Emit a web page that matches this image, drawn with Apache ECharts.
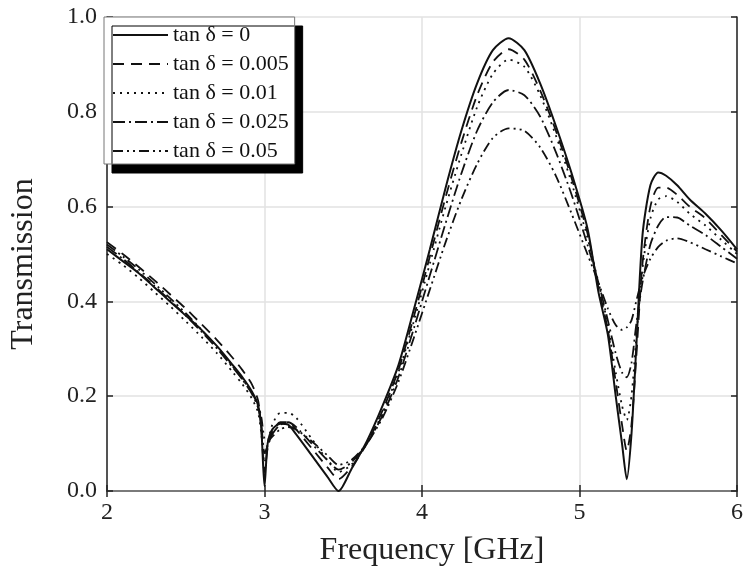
<!DOCTYPE html>
<html>
<head>
<meta charset="utf-8">
<title>Transmission</title>
<script src="https://cdn.jsdelivr.net/npm/echarts@6/dist/echarts.min.js"></script>
<style>
  html, body { margin: 0; padding: 0; background: #fff; }
  #main { width: 752px; height: 585px; }
</style>
</head>
<body>
<div id="main"></div>
<script>
// frequency points (GHz), denser around the dips
var freq = [2.0, 2.1, 2.2, 2.3, 2.4, 2.5, 2.6, 2.7, 2.8, 2.86, 2.92, 2.96, 2.98, 3.0, 3.02, 3.05, 3.1, 3.15, 3.2, 3.3, 3.4, 3.47,
  3.55, 3.65, 3.75, 3.85, 3.95, 4.05, 4.15, 4.25, 4.35, 4.45, 4.55, 4.65, 4.75, 4.85, 4.95, 5.05, 5.12, 5.18, 5.23, 5.27, 5.3,
  5.33, 5.36, 5.4, 5.45, 5.5, 5.55, 5.62, 5.7, 5.8, 5.9, 6.0];

var seriesNames = ['tan δ = 0', 'tan δ = 0.005', 'tan δ = 0.01', 'tan δ = 0.025', 'tan δ = 0.05'];

var tan0 = [0.51, 0.485, 0.46, 0.43, 0.40, 0.37, 0.34, 0.305, 0.265, 0.24, 0.21, 0.18, 0.13, 0.01, 0.1, 0.13, 0.142, 0.14, 0.12, 0.075, 0.03, 0.0,
  0.045, 0.105, 0.18, 0.265, 0.385, 0.51, 0.64, 0.76, 0.86, 0.93, 0.955, 0.93, 0.86, 0.77, 0.67, 0.555, 0.42, 0.33, 0.2, 0.1, 0.025,
  0.12, 0.3, 0.54, 0.645, 0.672, 0.665, 0.645, 0.615, 0.585, 0.55, 0.51];

var tan0005 = [0.525, 0.5, 0.473, 0.445, 0.415, 0.385, 0.352, 0.318, 0.28, 0.255, 0.225, 0.19, 0.13, 0.04, 0.09, 0.125, 0.145, 0.145, 0.13, 0.09, 0.05, 0.025,
  0.05, 0.1, 0.17, 0.255, 0.37, 0.495, 0.62, 0.735, 0.835, 0.905, 0.932, 0.91, 0.845, 0.76, 0.66, 0.545, 0.43, 0.34, 0.23, 0.14, 0.085,
  0.14, 0.28, 0.48, 0.6, 0.64, 0.64, 0.625, 0.6, 0.575, 0.54, 0.505];

var tan001 = [0.5, 0.477, 0.45, 0.42, 0.39, 0.358, 0.325, 0.29, 0.25, 0.225, 0.195, 0.165, 0.12, 0.06, 0.1, 0.14, 0.165, 0.165, 0.155, 0.11, 0.065, 0.04,
  0.055, 0.1, 0.165, 0.25, 0.36, 0.48, 0.6, 0.71, 0.81, 0.88, 0.91, 0.895, 0.835, 0.75, 0.65, 0.535, 0.44, 0.35, 0.25, 0.18, 0.15,
  0.2, 0.32, 0.47, 0.575, 0.615, 0.622, 0.61, 0.585, 0.56, 0.53, 0.5];

var tan0025 = [0.515, 0.49, 0.462, 0.433, 0.402, 0.37, 0.336, 0.3, 0.26, 0.235, 0.205, 0.175, 0.14, 0.08, 0.095, 0.12, 0.14, 0.145, 0.135, 0.1, 0.065, 0.045,
  0.06, 0.1, 0.16, 0.24, 0.345, 0.455, 0.565, 0.67, 0.76, 0.82, 0.846, 0.835, 0.79, 0.715, 0.625, 0.52, 0.44, 0.36, 0.29, 0.25, 0.24,
  0.27, 0.35, 0.44, 0.52, 0.56, 0.578, 0.577, 0.56, 0.54, 0.515, 0.49];

var tan005 = [0.52, 0.495, 0.468, 0.438, 0.407, 0.375, 0.34, 0.303, 0.262, 0.236, 0.207, 0.18, 0.155, 0.11, 0.105, 0.115, 0.13, 0.135, 0.13, 0.105, 0.075, 0.055,
  0.065, 0.1, 0.155, 0.23, 0.325, 0.425, 0.525, 0.615, 0.69, 0.745, 0.765, 0.76, 0.725, 0.665, 0.585, 0.5, 0.44, 0.385, 0.35, 0.34, 0.345,
  0.36, 0.4, 0.45, 0.49, 0.515, 0.528, 0.533, 0.525, 0.51, 0.495, 0.48];

var xTicks = [2, 3, 4, 5, 6];
var yTicks = [0.0, 0.2, 0.4, 0.6, 0.8, 1.0];

var allValues = [tan0, tan0005, tan001, tan0025, tan005];
var dashes = ['solid', [11, 7], [2, 5], [12, 4, 2, 4], [10, 4, 2, 4, 2, 4]];
var widths = [2, 1.8, 1.8, 1.8, 1.8];

var serif = 'Liberation Serif, Times New Roman, serif';

var myChart = echarts.init(document.getElementById('main'));

var series = allValues.map(function (vals, i) {
    return {
        name: seriesNames[i],
        type: 'line',
        xAxisIndex: 0,
        yAxisIndex: 0,
        symbol: 'none',
        smooth: 0.25,
        animation: false,
        lineStyle: { color: '#111', width: widths[i], type: dashes[i] },
        itemStyle: { color: '#111' },
        data: freq.map(function (f, j) { return [f, vals[j]]; }),
        z: 10 - i
    };
});

var axisLineStyle = { color: '#222', width: 1.5 };

option = {
    backgroundColor: '#fff',
    animation: false,
    grid: { left: 104, right: 15, top: 17, bottom: 94 },
    legend: {
        orient: 'vertical',
        left: 104,
        top: 17,
        padding: [7, 6, 2, 8],
        itemWidth: 55,
        itemHeight: 14,
        itemGap: 7,
        backgroundColor: '#fff',
        borderColor: '#777',
        borderWidth: 1,
        shadowColor: '#000',
        shadowBlur: 0,
        shadowOffsetX: 8,
        shadowOffsetY: 9,
        itemStyle: { opacity: 0 },
        textStyle: { fontFamily: serif, fontSize: 22, color: '#111' },
        data: seriesNames
    },
    xAxis: [{
        type: 'value',
        min: 2, max: 6, interval: 1,
        name: 'Frequency [GHz]',
        nameLocation: 'middle',
        nameGap: 44,
        nameTextStyle: { fontFamily: serif, fontSize: 32, color: '#222', padding: [0, 0, 0, 20] },
        axisLine: { lineStyle: axisLineStyle },
        axisTick: { inside: true, length: 6, lineStyle: axisLineStyle },
        axisLabel: {
            fontFamily: serif, fontSize: 24, color: '#222', margin: 10,
            formatter: function (v) { return xTicks.indexOf(v) >= 0 ? String(v) : ''; }
        },
        splitLine: { show: true, lineStyle: { color: '#e2e2e2', width: 1.5 } }
    }, {
        type: 'value',
        position: 'top',
        min: 2, max: 6, interval: 1,
        axisLine: { show: true, lineStyle: { color: '#888', width: 1.5 } },
        axisTick: { inside: true, length: 6, lineStyle: axisLineStyle },
        axisLabel: { show: false },
        splitLine: { show: false }
    }],
    yAxis: [{
        type: 'value',
        min: 0, max: 1, interval: 0.2,
        name: 'Transmission',
        nameLocation: 'middle',
        nameGap: 67,
        nameTextStyle: { fontFamily: serif, fontSize: 32, color: '#222', padding: [0, 20, 0, 0] },
        axisLine: { show: true, lineStyle: axisLineStyle },
        axisTick: { show: true, inside: true, length: 6, lineStyle: axisLineStyle },
        axisLabel: {
            fontFamily: serif, fontSize: 24, color: '#222', margin: 10,
            formatter: function (v) { return v.toFixed(1); }
        },
        splitLine: { show: true, lineStyle: { color: '#e2e2e2', width: 1.5 } }
    }, {
        type: 'value',
        position: 'right',
        min: 0, max: 1, interval: 0.2,
        axisLine: { show: true, lineStyle: axisLineStyle },
        axisTick: { show: true, inside: true, length: 6, lineStyle: axisLineStyle },
        axisLabel: { show: false },
        splitLine: { show: false }
    }],
    series: series
};

myChart.setOption(option);
window.addEventListener('resize', function () {
    myChart.resize();
});
</script>
</body>
</html>
